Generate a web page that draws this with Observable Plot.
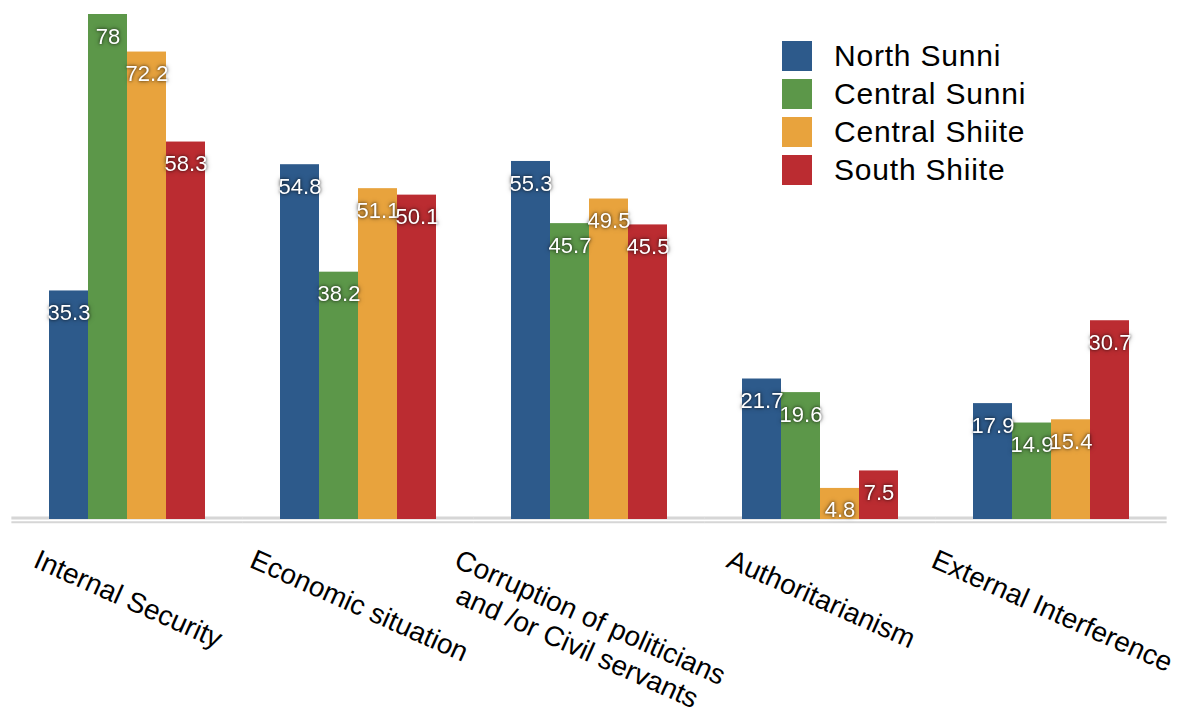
<!DOCTYPE html>
<html>
<head>
<meta charset="utf-8">
<script src="https://cdn.jsdelivr.net/npm/d3@7"></script>
<script src="https://cdn.jsdelivr.net/npm/@observablehq/plot@0.6"></script>
<style>
  html, body { margin: 0; padding: 0; background: #fff; }
  #wrap { position: relative; width: 1179px; height: 715px; font-family: "Liberation Sans", Arial, sans-serif; }
  #legend { position: absolute; left: 782px; top: 41px; }
  .item { display: flex; align-items: center; height: 30px; margin-bottom: 8px; }
  .swatch { width: 30px; height: 30px; margin-right: 22px; }
  .item span { font-size: 30px; letter-spacing: 0.8px; color: #000; line-height: 30px; }
  text.value-label {
    filter: drop-shadow(0 0 1.5px rgba(0,0,0,0.6)) drop-shadow(0 0 2.5px rgba(0,0,0,0.35));
  }
</style>
</head>
<body>
<div id="wrap"></div>
<script>
// Problem categories (x groups)
const categories = [
  "Internal Security",
  "Economic situation",
  "Corruption of politicians\nand /or Civil servants",
  "Authoritarianism",
  "External Interference"
];

// Respondent groups (one bar each per category)
const series = ["North Sunni", "Central Sunni", "Central Shiite", "South Shiite"];
const colors = ["#2d5a8b", "#5c9749", "#e8a33d", "#bb2c31"];

// Percentages per group, in category order
const northSunni    = [35.3, 54.8, 55.3, 21.7, 17.9];
const centralSunni  = [78,   38.2, 45.7, 19.6, 14.9];
const centralShiite = [72.2, 51.1, 49.5, 4.8,  15.4];
const southShiite   = [58.3, 50.1, 45.5, 7.5,  30.7];

const seriesValues = [northSunni, centralSunni, centralShiite, southShiite];
const rows = [];
categories.forEach((c, i) => {
  series.forEach((s, j) => rows.push({category: c, series: s, value: seriesValues[j][i]}));
});

// Layout
const W = 1179, H = 715;
const margin = {top: 14, right: 50, bottom: 196, left: 48};
const padInner = 0.3254;
const step = (W - margin.left - margin.right) / (categories.length - padInner);
const halfGap = step * padInner / 2;

// Rotated category labels
const fontFamily = "'Liberation Sans', Arial, sans-serif";
const labelSize = 28, lineH = 1.15, angle = 24;
const rad = angle * Math.PI / 180;
const ctx = document.createElement("canvas").getContext("2d");
ctx.font = `${labelSize}px ${fontFamily}`;
const frameBottom = H - margin.bottom;
const baselineStartY = 566;
const topOffset = 0.71 * lineH * labelSize;

const labelMarks = categories.map((c) => {
  const w = ctx.measureText(c.split("\n")[0]).width;
  const dy = baselineStartY - frameBottom + (w / 2) * Math.sin(rad) - topOffset * Math.cos(rad);
  const dx = topOffset * Math.sin(rad) - 3;
  return Plot.text([c], {
    fx: d => d,
    frameAnchor: "bottom",
    text: d => d,
    rotate: angle,
    textAnchor: "middle",
    lineAnchor: "top",
    lineHeight: lineH,
    fontSize: labelSize,
    fill: "#000",
    dx, dy
  });
});

const chart = Plot.plot({
  width: W,
  height: H,
  marginTop: margin.top,
  marginRight: margin.right,
  marginBottom: margin.bottom,
  marginLeft: margin.left,
  style: {fontFamily, background: "transparent"},
  fx: {domain: categories, paddingInner: padInner, paddingOuter: 0, axis: null},
  x: {domain: series, padding: 0, axis: null},
  y: {domain: [0, 78], axis: null},
  color: {domain: series, range: colors},
  marks: [
    Plot.ruleY([0], {stroke: "#d6d6d6", strokeWidth: 3, dy: -1.5, insetLeft: -halfGap, insetRight: -halfGap}),
    Plot.ruleY([0], {stroke: "#d6d6d6", strokeWidth: 2, dy: 2.7, insetLeft: -halfGap, insetRight: -halfGap}),
    Plot.barY(rows, {fx: "category", x: "series", y: "value", fill: "series"}),
    Plot.text(rows, {
      fx: "category", x: "series", y: "value",
      text: d => String(d.value),
      fill: "white", fontSize: 22, dy: 22
    }),
    ...labelMarks
  ]
});

// Soft dark glow behind the white value labels
const valueStrings = new Set(rows.map(d => String(d.value)));
d3.select(chart).selectAll("text")
  .filter(function () { return valueStrings.has(this.textContent); })
  .classed("value-label", true);

const wrap = document.getElementById("wrap");
wrap.appendChild(chart);

// Legend
const legend = document.createElement("div");
legend.id = "legend";
series.forEach((s, i) => {
  const item = document.createElement("div");
  item.className = "item";
  const sw = document.createElement("div");
  sw.className = "swatch";
  sw.style.background = colors[i];
  const label = document.createElement("span");
  label.textContent = s;
  item.appendChild(sw);
  item.appendChild(label);
  legend.appendChild(item);
});
wrap.appendChild(legend);
</script>
</body>
</html>
